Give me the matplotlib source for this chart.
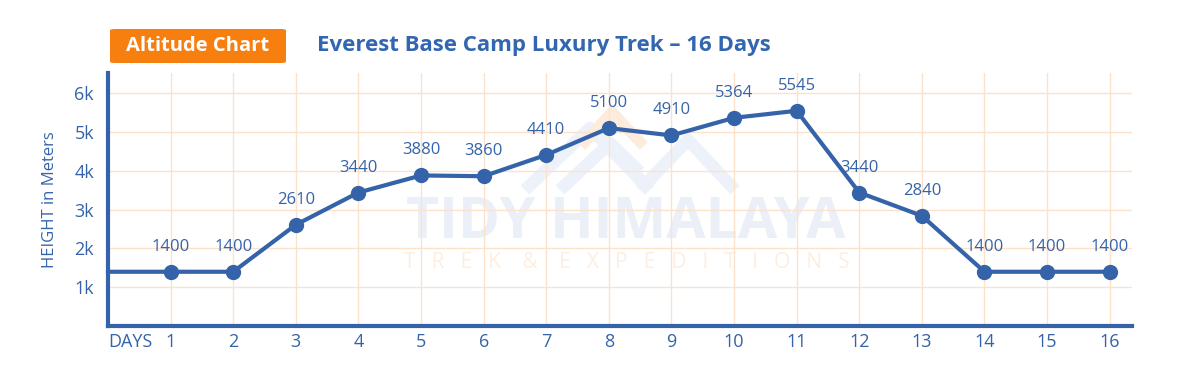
import numpy as np
import matplotlib.pyplot as plt
from matplotlib.patches import FancyBboxPatch
from matplotlib.lines import Line2D

# altitude per day (m)
days = [1, 2, 3, 4, 5, 6, 7, 8, 9, 10, 11, 12, 13, 14, 15, 16]
altitude = [1400, 1400, 2610, 3440, 3880, 3860, 4410, 5100, 4910, 5364, 5545, 3440, 2840, 1400, 1400, 1400]
ytick_vals = [1000, 2000, 3000, 4000, 5000, 6000]
ytick_labels = ['1k', '2k', '3k', '4k', '5k', '6k']

blue = '#3563a9'
grid_c = '#fde2cb'
orange = '#f77f10'

plt.rcParams['font.family'] = ['Open Sans', 'DejaVu Sans']

fig = plt.figure(figsize=(12, 3.74), dpi=100)
ax = fig.add_axes([0.09, 0.128, 0.853, 0.677])

W, H = 1200.0, 374.0
def fx(px):
    return px / W
def fy(py):
    return 1 - py / H

# watermark (behind everything)
ax.set_zorder(1)
ax.patch.set_alpha(0)
fig.text(fx(626), fy(223), 'TIDY HIMALAYA', color='#eaeff8', fontsize=41,
         fontweight='bold', ha='center', va='center', zorder=0)
fig.text(fx(627), fy(262), 'T   R   E   K    &    E   X   P   E   D   I   T   I   O   N   S', color='#fdeee0',
         fontsize=15, ha='center', va='center', zorder=0)
for seg in [[(525, 190), (590, 128), (650, 190)],
            [(560, 190), (610, 143), (640, 172)],
            [(640, 190), (688, 140), (735, 190)]]:
    xs = [fx(p[0]) for p in seg]
    ys = [fy(p[1]) for p in seg]
    fig.add_artist(Line2D(xs, ys, color='#edf1f9', lw=9, solid_capstyle='butt', zorder=0))
fig.add_artist(Line2D([fx(585), fx(612), fx(640)], [fy(142), fy(112), fy(142)],
                      color='#fdebdc', lw=8, zorder=0))

# line starts at the axis, markers on days only
ax.plot([0] + days, [altitude[0]] + altitude, color=blue, lw=3, zorder=3, clip_on=False)
ax.plot(days, altitude, 'o', color=blue, ms=10, zorder=4, clip_on=False)
for d, a in zip(days, altitude):
    ax.annotate(str(a), (d, a), xytext=(0, 18), textcoords='offset points',
                ha='center', va='center', fontsize=12, color=blue, zorder=5)

ax.set_xlim(0, 16.35)
ax.set_ylim(0, 6520)
ax.set_xticks([0] + days)
ax.set_xticklabels(['DAYS'] + [str(d) for d in days])
ax.get_xticklabels()[0].set_ha('left')
ax.set_yticks(ytick_vals)
ax.set_yticklabels(ytick_labels)
ax.tick_params(axis='both', length=0, labelsize=13, labelcolor=blue)
ax.tick_params(axis='y', pad=10)
ax.tick_params(axis='x', pad=5)

ax.grid(True, color=grid_c, lw=1, zorder=0)
ax.set_axisbelow(True)
for s in ['top', 'right']:
    ax.spines[s].set_visible(False)
for s in ['left', 'bottom']:
    ax.spines[s].set_color(blue)
    ax.spines[s].set_linewidth(3)

ax.set_ylabel('HEIGHT in Meters', color=blue, fontsize=12, labelpad=12)

# header
box = FancyBboxPatch((fx(110), fy(63)), fx(176), 34 / H,
                     boxstyle='round,pad=0,rounding_size=0.004',
                     transform=fig.transFigure, facecolor=orange, edgecolor='none')
fig.add_artist(box)
fig.text(fx(198), fy(46), 'Altitude Chart', color='white', fontsize=14.5,
         fontweight='bold', ha='center', va='center')
fig.text(fx(317), fy(46), 'Everest Base Camp Luxury Trek \u2013 16 Days', color='#3366b0',
         fontsize=16, fontweight='bold', ha='left', va='center')

fig.savefig('out.png', dpi=100)
